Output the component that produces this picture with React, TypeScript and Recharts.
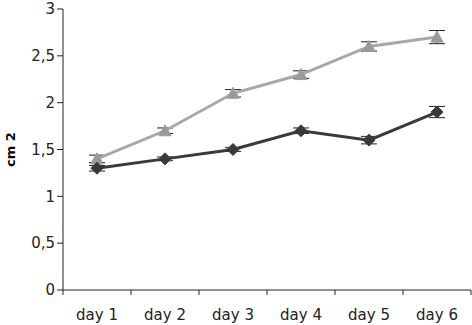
import React from "react";
import { LineChart, Line, XAxis, YAxis, ErrorBar } from "recharts";

const days = ["day 1", "day 2", "day 3", "day 4", "day 5", "day 6"];
const upper = [1.4, 1.7, 2.1, 2.3, 2.6, 2.7];
const upperErr = [0.04, 0.03, 0.04, 0.04, 0.05, 0.07];
const lower = [1.3, 1.4, 1.5, 1.7, 1.6, 1.9];
const lowerErr = [0.03, 0.02, 0.02, 0.03, 0.04, 0.06];
const yTicks = [0, 0.5, 1, 1.5, 2, 2.5, 3];

const data = days.map((d, i) => ({
  name: d,
  upper: upper[i],
  upperErr: upperErr[i],
  lower: lower[i],
  lowerErr: lowerErr[i],
}));

const font = "Verdana, 'DejaVu Sans', sans-serif";

const Triangle = (props: any) => {
  const { cx, cy } = props;
  if (cx == null || cy == null) return null;
  return (
    <polygon
      points={`${cx},${cy - 6} ${cx - 6},${cy + 5} ${cx + 6},${cy + 5}`}
      fill="#9a9a9a"
      stroke="#9a9a9a"
    />
  );
};

const Diamond = (props: any) => {
  const { cx, cy } = props;
  if (cx == null || cy == null) return null;
  return (
    <polygon
      points={`${cx},${cy - 6} ${cx + 6},${cy} ${cx},${cy + 6} ${cx - 6},${cy}`}
      fill="#3a3a3a"
      stroke="#3a3a3a"
    />
  );
};

// category ticks sit between the days, like the spreadsheet original
const DayTick = (props: any) => {
  const { x, y, payload, index } = props;
  const half = 34;
  return (
    <g>
      <line x1={x + half} y1={y - 8} x2={x + half} y2={y - 3} stroke="#222" />
      {index === 0 ? (
        <line x1={x - half} y1={y - 8} x2={x - half} y2={y - 3} stroke="#222" />
      ) : null}
      <text x={x} y={y + 22} textAnchor="middle" fill="#222" fontSize={15} fontFamily={font}>
        {payload.value}
      </text>
    </g>
  );
};

const YLabel = (props: any) => {
  const { viewBox } = props;
  const cy = viewBox.y + viewBox.height / 2;
  return (
    <text
      x={15}
      y={cy}
      transform={`rotate(-90, 15, ${cy})`}
      textAnchor="middle"
      fontSize={13}
      fontWeight="bold"
      fill="#000"
      fontFamily={font}
    >
      cm 2
    </text>
  );
};

const App: React.FC = () => {
  return (
    <div style={{ position: "absolute", left: 0, top: 0, background: "#fff" }}>
      <LineChart
        width={472}
        height={325}
        data={data}
        margin={{ top: 9, right: 1, bottom: 0, left: 0 }}
      >
        <XAxis
          dataKey="name"
          height={35}
          stroke="#222"
          tickLine={false}
          tick={<DayTick />}
          interval={0}
          padding={{ left: 34, right: 34 }}
        />
        <YAxis
          domain={[0, 3]}
          ticks={yTicks}
          width={63}
          stroke="#222"
          tickSize={6}
          tick={{ fontSize: 15, fill: "#222", fontFamily: font }}
          tickFormatter={(v: number) => String(v).replace(".", ",")}
          label={<YLabel />}
        />
        <Line
          dataKey="upper"
          stroke="#a8a8a8"
          strokeWidth={3}
          dot={<Triangle />}
          isAnimationActive={false}
        >
          <ErrorBar dataKey="upperErr" width={8} stroke="#222" strokeWidth={1} direction="y" />
        </Line>
        <Line
          dataKey="lower"
          stroke="#3a3a3a"
          strokeWidth={3}
          dot={<Diamond />}
          isAnimationActive={false}
        >
          <ErrorBar dataKey="lowerErr" width={8} stroke="#222" strokeWidth={1} direction="y" />
        </Line>
      </LineChart>
    </div>
  );
};

export default App;
